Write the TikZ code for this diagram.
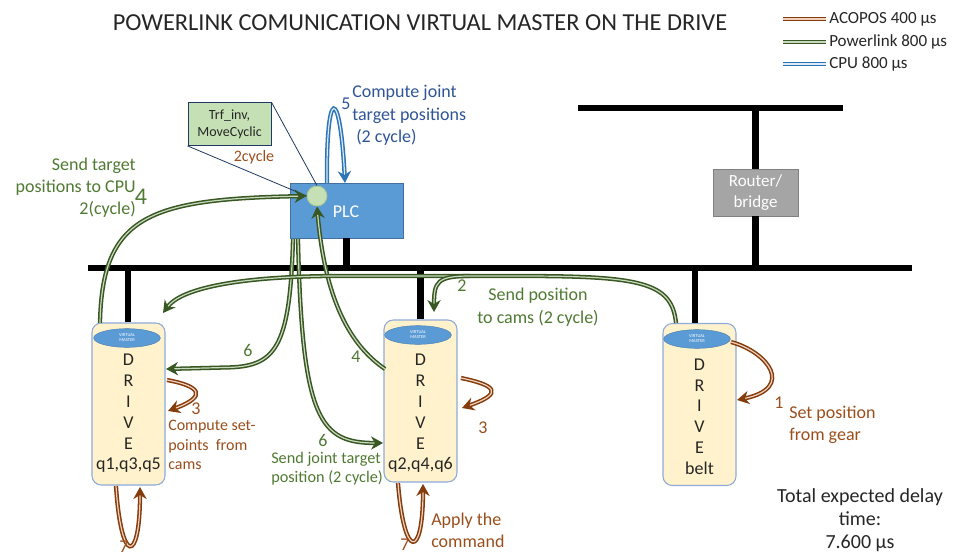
\documentclass[tikz,border=0pt]{standalone}
\usepackage{fontspec}
\setmainfont{Carlito}
\usetikzlibrary{arrows.meta,shapes.geometric}
\definecolor{gdark}{HTML}{385723}
\definecolor{glight}{HTML}{C9D9BE}
\definecolor{gtext}{HTML}{4F7A32}
\definecolor{bdark}{HTML}{843C0C}
\definecolor{blight}{HTML}{F1D2BE}
\definecolor{btext}{HTML}{9A4E1C}
\definecolor{udark}{HTML}{2E75B6}
\definecolor{ulight}{HTML}{DDEBF7}
\definecolor{utext}{HTML}{2F5597}
\definecolor{plcblue}{HTML}{5B9BD5}
\definecolor{plcborder}{HTML}{41719C}
\definecolor{drivefill}{HTML}{FFF2CC}
\definecolor{driveborder}{HTML}{8FAADC}
\definecolor{circfill}{HTML}{C5E0B4}
\definecolor{circborder}{HTML}{A9C98F}
\definecolor{routerfill}{HTML}{A5A5A5}
\definecolor{navy}{HTML}{203864}
\definecolor{txt}{HTML}{262626}
\begin{document}
\begin{tikzpicture}[x=0.75pt,y=-0.75pt,
  bus/.style={line width=4.8pt, black},
  lbl/.style={font=\fontsize{13.5}{16.5}\selectfont, inner sep=0pt},
  glbl/.style={lbl, text=gtext},
  blbl/.style={lbl, text=btext},
  ulbl/.style={lbl, text=utext},
  dbl/.style={double distance=0.9pt, line width=1.15pt},
  tip/.style={-{Stealth[length=9pt,width=10pt]}},
  gA/.style={dbl, draw=gdark, double=glight, tip},
  bA/.style={dbl, draw=bdark, double=blight, tip},
  uA/.style={dbl, draw=udark, double=ulight, tip},
  drivebox/.style={draw=driveborder, line width=0.8pt, fill=drivefill, rounded corners=7pt, minimum width=54.75pt, minimum height=121.5pt, inner sep=0pt},
  vm/.style={ellipse, fill=plcblue, draw=plcblue!80!black, line width=0.3pt, minimum width=50pt, minimum height=14pt, inner sep=0pt, text=white, align=center, font=\fontsize{3.4}{3.8}\selectfont},
  dtext/.style={font=\fontsize{13.5}{15.6}\selectfont, text=txt, align=center, inner sep=0pt, anchor=north}
]
\useasboundingbox (0,0) rectangle (962,556);

% title
\node[font=\fontsize{18.3}{21}\selectfont, text=txt, inner sep=0pt] (title) at (420,23) {POWERLINK COMUNICATION VIRTUAL MASTER ON THE DRIVE};

% legend
\coordinate (lg1a) at (783,19); \coordinate (lg1b) at (826,19);
\coordinate (lg2a) at (783,42); \coordinate (lg2b) at (826,42);
\coordinate (lg3a) at (783,64); \coordinate (lg3b) at (826,64);
\draw[dbl, draw=bdark, double=blight] (lg1a) -- (lg1b);
\draw[dbl, draw=gdark, double=glight] (lg2a) -- (lg2b);
\draw[dbl, draw=udark, double=ulight] (lg3a) -- (lg3b);
\node[lbl, anchor=west, text=txt, font=\fontsize{12.75}{15}\selectfont] (lt1) at (829,19) {ACOPOS 400 µs};
\node[lbl, anchor=west, text=txt, font=\fontsize{12.75}{15}\selectfont] (lt2) at (829,42) {Powerlink 800 µs};
\node[lbl, anchor=west, text=txt, font=\fontsize{12.75}{15}\selectfont] (lt3) at (829,64) {CPU 800 µs};

% buses
\coordinate (busL) at (88,268); \coordinate (busR) at (912,268);
\coordinate (tbL) at (578,108); \coordinate (tbR) at (843,108);
\draw[bus] (busL) -- (busR);
\draw[bus] (tbL) -- (tbR);

% router
\node[fill=routerfill, draw=gray, line width=0.6pt, minimum width=63.75pt, minimum height=35.25pt, text=white, align=center, font=\fontsize{12.75}{15.5}\selectfont, inner sep=0pt] (rt) at (755.5,192.5) {Router/\\bridge};
\draw[bus] (rt.north) -- (rt.north |- tbL);
\draw[bus] (rt.south) -- (rt.south |- busL);

% PLC
\node[fill=plcblue, draw=plcborder, line width=0.6pt, minimum width=84.75pt, minimum height=41.25pt, inner sep=0pt] (plc) at (346.5,210.5) {};
\node[text=white, font=\fontsize{13.5}{16}\selectfont, inner sep=0pt] (plct) at (346,212) {PLC};
\draw[bus] (plc.south) -- (plc.south |- busL);
\node[circle, fill=circfill, draw=circborder, line width=0.6pt, minimum size=15pt, inner sep=0pt] (cpu) at (317,196) {};

% callout
\node[fill=circfill, draw=navy, line width=0.6pt, minimum width=62.25pt, minimum height=32.25pt, align=center, text=txt, font=\fontsize{10.5}{13}\selectfont, inner sep=0pt] (trf) at (229.5,124) {Trf\_inv,\\MoveCyclic};
\draw[navy, line width=0.6pt] (trf.north east) -- (cpu.north);
\draw[navy, line width=0.6pt] (trf.south west) -- (cpu.west);
\node[blbl, font=\fontsize{12}{14}\selectfont] (cyc) at (254,157) {2cycle};

% drives
\node[drivebox] (d1) at (128.5,404) {};
\node[drivebox] (d2) at (420.5,401) {};
\node[drivebox] (d3) at (699.5,404.5) {};
\node[vm] (vm1) at (127,338) {VIRTUAL\\MASTER};
\node[vm] (vm2) at (418,335) {VIRTUAL\\MASTER};
\node[vm] (vm3) at (697,339) {VIRTUAL\\MASTER};
\node[dtext] (d1t) at (128.5,354) {D\\R\\I\\V\\E\\q1,q3,q5};
\node[dtext] (d2t) at (420.5,354) {D\\R\\I\\V\\E\\q2,q4,q6};
\node[dtext] (d3t) at (699.5,358.5) {D\\R\\I\\V\\E\\belt};
\draw[bus] (d1.north -| 128,0) -- (128,268);
\draw[bus] (d2.north) -- (d2.north |- busL);
\draw[bus] (d3.north -| 695,0) -- (695,268);

% blue loop 5
\coordinate (p5a) at (327,183);
\coordinate (p5b) at (345,183);
\draw[uA] (p5a) .. controls (326,85) and (340,85) .. (p5b);
\node[ulbl] (n5) at (346,104) {5};
\node[ulbl, anchor=north west, align=left, font=\fontsize{13.5}{16.8}\selectfont] (t5) at (352,85) {Compute joint\\target positions\\\hspace*{3pt}(2 cycle)};

% green arrows
\coordinate (g4s) at (100,323);
\draw[gA] (g4s) .. controls (102,215) and (150,199) .. (cpu.west);
\node[glbl, anchor=north east, align=right] (t4) at (136,158) {Send target\\positions to CPU\\2(cycle)};
\node[lbl, text=gtext, font=\fontsize{18}{20}\selectfont] (n4a) at (141,197) {4};

\coordinate (g6as) at (293,239);
\coordinate (g6ae) at (166,369);
\draw[gA] (g6as) .. controls (290,350) and (275,367) .. (225,367.5) -- (g6ae);
\node[glbl] (n6a) at (248,350) {6};

\coordinate (g6bs) at (298,239);
\coordinate (g6be) at (383,443);
\draw[gA] (g6bs) .. controls (302,420) and (320,443) .. (g6be);
\node[glbl] (n6b) at (323,440) {6};
\node[glbl, anchor=north west, align=left, font=\fontsize{12.2}{14}\selectfont] (t6) at (271,452) {Send joint target\\position (2 cycle)};

\coordinate (g4ms) at (385,369);
\draw[gA] (g4ms) .. controls (350,345) and (325,300) .. (cpu.south);
\node[glbl] (n4b) at (356,357) {4};

\coordinate (g2s) at (676,323);
\coordinate (g2e) at (163,313);
\coordinate (g2b) at (434,312);
\draw[gA] (g2s) .. controls (672,282) and (640,276) .. (520,276) -- (330,276) .. controls (230,277) and (180,290) .. (g2e);
\draw[gA] (470,276) .. controls (437,276) and (434,282) .. (g2b);
\node[glbl] (n2) at (462,286) {2};
\node[glbl, align=center, font=\fontsize{13.5}{17}\selectfont] (t2) at (538,307) {Send position\\to cams (2 cycle)};

% brown arrows
\coordinate (b1s) at (731,342); \coordinate (b1e) at (737,400);
\draw[bA] (b1s) .. controls (768,352) and (795,388) .. (b1e);
\node[blbl] (n1) at (779,403) {1};
\node[blbl, anchor=north west, align=left, font=\fontsize{13.5}{16.5}\selectfont] (t1) at (789,406) {Set position\\from gear};

\coordinate (b3as) at (167,380); \coordinate (b3ae) at (168,411);
\draw[bA] (b3as) .. controls (200,386) and (208,396) .. (b3ae);
\node[blbl] (n3a) at (196,409) {3};
\node[blbl, anchor=north west, align=left, font=\fontsize{12}{14.6}\selectfont] (t3a) at (168,420) {Compute set-\\points\ \ from\\cams};

\coordinate (b7as) at (116,486); \coordinate (b7ae) at (140,487);
\draw[bA] (b7as) .. controls (121,565) and (140,565) .. (b7ae);
\node[blbl] (n7a) at (124,547) {7};

\coordinate (b3bs) at (461,378); \coordinate (b3be) at (462,408);
\draw[bA] (b3bs) .. controls (495,385) and (505,393) .. (b3be);
\node[blbl] (n3b) at (483,428) {3};

\coordinate (b7bs) at (398,483); \coordinate (b7be) at (423,484);
\draw[bA] (b7bs) .. controls (404,560) and (423,560) .. (b7be);
\node[blbl] (n7b) at (405,545) {7};
\node[blbl, anchor=north west, align=left, font=\fontsize{13.5}{16.5}\selectfont] (tap) at (431,513) {Apply the\\command};

% total
\node[lbl, text=txt, align=center, font=\fontsize{15}{17.5}\selectfont] (tot) at (860,520) {Total expected delay\\time:\\7.600 µs};
\end{tikzpicture}
\end{document}
